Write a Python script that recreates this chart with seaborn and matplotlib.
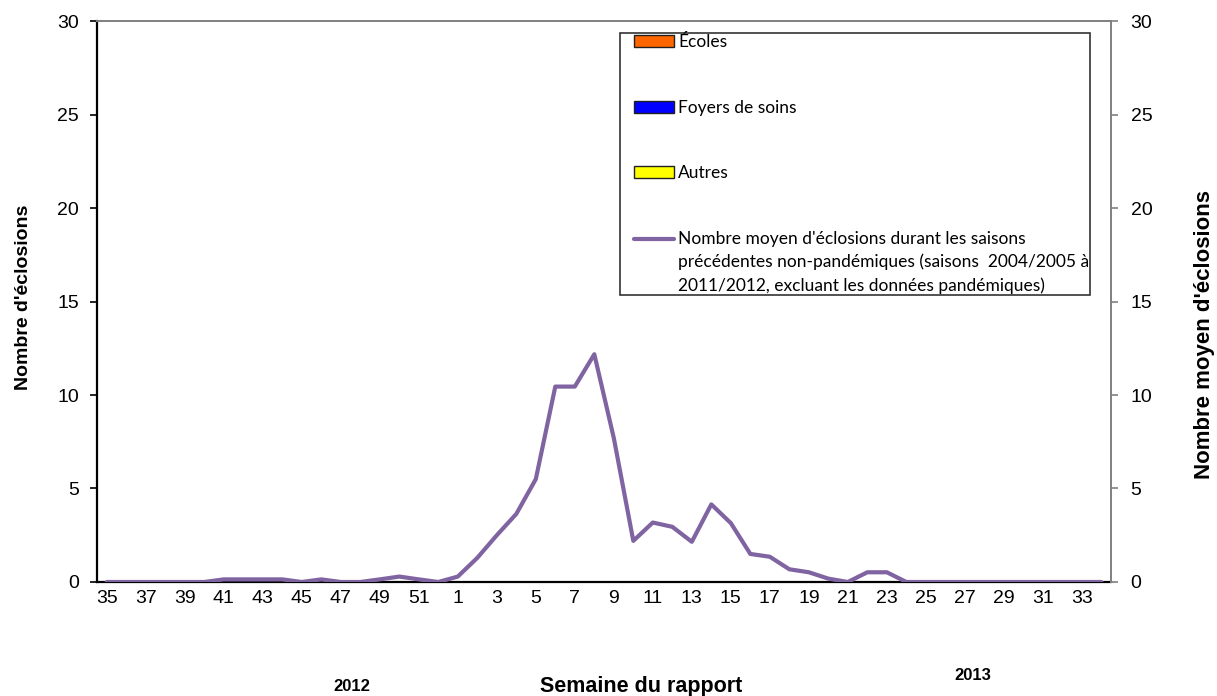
import matplotlib
matplotlib.use("Agg")
import matplotlib.pyplot as plt
from matplotlib.legend_handler import HandlerLine2D, HandlerPatch
import seaborn as sns
import pandas as pd

# Semaines du rapport (saison 2012-2013)
weeks = list(range(35, 53)) + list(range(1, 35))
tick_labels = [str(w) if i % 2 == 0 else "" for i, w in enumerate(weeks)]

# Éclosions de la saison courante (aucune déclarée)
ecoles = [0] * len(weeks)
foyers = [0] * len(weeks)
autres = [0] * len(weeks)

# Nombre moyen d'éclosions, saisons précédentes non-pandémiques
moyenne = [0, 0, 0, 0, 0, 0, 0.14, 0.14, 0.14, 0.14, 0, 0.14, 0, 0, 0.14, 0.29, 0.14, 0,
           0.29, 1.29, 2.5, 3.64, 5.5, 10.45, 10.45, 12.18, 7.7, 2.2, 3.18, 2.95, 2.15, 4.15,
           3.15, 1.5, 1.35, 0.68, 0.52, 0.18, 0, 0.52, 0.52, 0,
           0, 0, 0, 0, 0, 0, 0, 0, 0, 0]

df = pd.DataFrame({"pos": range(len(weeks)), "moyenne": moyenne})

sns.set_theme(style="white")
plt.rcParams["font.family"] = ["Liberation Sans", "DejaVu Sans"]
plt.rcParams["text.color"] = "black"
plt.rcParams["xtick.color"] = "black"
plt.rcParams["ytick.color"] = "black"


class FirstLineHandler(HandlerLine2D):
    # place la ligne de légende à la hauteur de la première ligne du texte
    def create_artists(self, *args, **kwargs):
        artists = super().create_artists(*args, **kwargs)
        for a in artists:
            a.set_ydata([y + 16.8 for y in a.get_ydata()])
        return artists


fig = plt.figure(figsize=(12.17, 6.96), dpi=100)
ax = fig.add_axes([0.0797, 0.1638, 0.8333, 0.806])

# barres empilées (toutes à zéro)
ax.bar(df["pos"], ecoles, width=0.8, color="#FF6600", edgecolor="#202020", linewidth=1, label="Écoles")
ax.bar(df["pos"], foyers, bottom=ecoles, width=0.8, color="#0000FF", edgecolor="#202020", linewidth=1,
       label="Foyers de soins")
ax.bar(df["pos"], autres, width=0.8, color="#FFFF00", edgecolor="#202020", linewidth=1, label="Autres")

ax2 = ax.twinx()
sns.lineplot(data=df, x="pos", y="moyenne", ax=ax2, color="#8064A2", linewidth=3,
             label="Nombre moyen d'éclosions durant les saisons\nprécédentes non-pandémiques (saisons  2004/2005 à\n2011/2012, excluant les données pandémiques)")

for a in (ax, ax2):
    a.set_xlim(-0.5, len(weeks) - 0.5)
    a.set_ylim(0, 30)
    a.set_yticks(range(0, 31, 5))

ax.set_xticks(range(len(weeks)))
ax.set_xticklabels(tick_labels, fontsize=14)
ax.set_xticks([i - 0.5 for i in range(len(weeks) + 1)], minor=True)
ax.tick_params(axis="x", which="major", length=0, pad=6)
ax.tick_params(axis="x", which="minor", length=6, width=1.2, color="black", direction="out")
ax.tick_params(axis="y", length=5, width=1.2, color="black", direction="out", labelsize=14, left=True, pad=8)
ax2.tick_params(axis="y", length=5, width=1.2, color="#808080", direction="out", labelsize=14, right=True, pad=9)

for s in ("left", "bottom"):
    ax.spines[s].set_color("black")
    ax.spines[s].set_linewidth(1.6)
ax.spines["top"].set_color("#808080")
ax.spines["right"].set_visible(False)
for s in ("left", "bottom"):
    ax2.spines[s].set_visible(False)
ax2.spines["top"].set_color("#808080")
ax2.spines["right"].set_color("#808080")
ax2.spines["right"].set_linewidth(1.4)

ax.set_xlabel("")
ax.set_ylabel("")
ax2.set_xlabel("")
ax2.set_ylabel("")

fig.text(0.019, 0.573, "Nombre d'éclosions", fontsize=14, fontweight="bold", rotation=90,
         ha="center", va="center")
fig.text(0.990, 0.520, "Nombre moyen d'éclosions", fontsize=16, fontweight="bold", rotation=90,
         ha="center", va="center")
fig.text(0.527, 0.014, "Semaine du rapport", fontsize=15.5, fontweight="bold", ha="center", va="center")
fig.text(0.289, 0.014, "2012", fontsize=12, fontweight="bold", ha="center", va="center")
fig.text(0.799, 0.030, "2013", fontsize=12, fontweight="bold", ha="center", va="center")

h1, l1 = ax.get_legend_handles_labels()
h1 = [c.patches[0] for c in h1]
h2, l2 = ax2.get_legend_handles_labels()
hmap = {h: HandlerPatch(xpad=0.7) for h in h1}
hmap[h2[0]] = FirstLineHandler(xpad=0.7)
leg = ax2.legend(h1 + h2, l1 + l2, loc="upper left", bbox_to_anchor=(0.5158, 0.9786),
                 frameon=True, fancybox=False, edgecolor="black",
                 prop={"family": ["Lato", "DejaVu Sans"], "size": 12.5},
                 labelspacing=2.85, handlelength=3.0, handleheight=0.7, handletextpad=0.25,
                 borderpad=0.08, borderaxespad=0, handler_map=hmap)
leg.get_frame().set_linewidth(1.2)
for t in leg.get_texts():
    t.set_linespacing(1.5)

fig.savefig("out.png", dpi=100)
